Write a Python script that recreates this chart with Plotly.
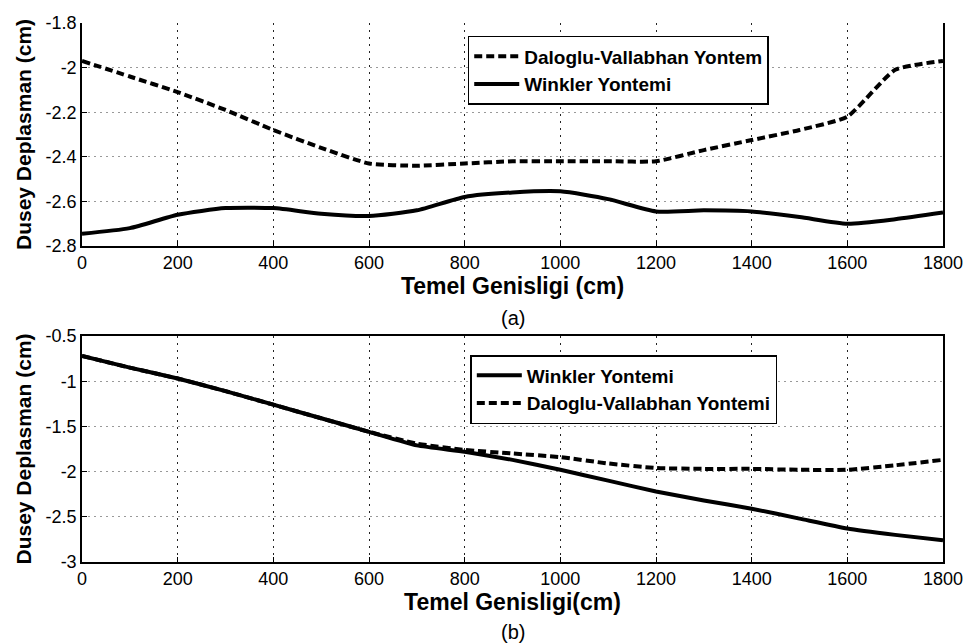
import plotly.graph_objects as go

x_vals = [0, 100, 200, 300, 400, 500, 600, 700, 800, 900, 1000, 1100, 1200, 1300, 1400, 1500, 1600, 1700, 1800]

# Panel (a)
a_daloglu = [-1.97, -2.04, -2.11, -2.19, -2.28, -2.36, -2.43, -2.44, -2.43, -2.42, -2.42, -2.42, -2.42, -2.37, -2.325, -2.28, -2.22, -2.01, -1.97]
a_winkler = [-2.745, -2.72, -2.66, -2.63, -2.63, -2.655, -2.665, -2.64, -2.58, -2.56, -2.555, -2.59, -2.645, -2.64, -2.645, -2.67, -2.70, -2.68, -2.65]

# Panel (b)
b_winkler = [-0.72, -0.85, -0.97, -1.11, -1.26, -1.41, -1.56, -1.71, -1.78, -1.87, -1.98, -2.10, -2.22, -2.32, -2.41, -2.52, -2.63, -2.70, -2.76]
b_daloglu = [-0.72, -0.85, -0.97, -1.11, -1.26, -1.41, -1.56, -1.69, -1.76, -1.80, -1.84, -1.91, -1.96, -1.97, -1.97, -1.98, -1.98, -1.93, -1.87]

x_ticks = [0, 200, 400, 600, 800, 1000, 1200, 1400, 1600, 1800]
a_yticks = [-2.8, -2.6, -2.4, -2.2, -2, -1.8]
a_ytext = ["-2.8", "-2.6", "-2.4", "-2.2", "-2", "-1.8"]
b_yticks = [-3, -2.5, -2, -1.5, -1, -0.5]
b_ytext = ["-3", "-2.5", "-2", "-1.5", "-1", "-0.5"]

FONT = "Liberation Sans, Arial, sans-serif"
DASH = "8px,4px"

fig = go.Figure()
fig.add_trace(go.Scatter(x=x_vals, y=a_daloglu, mode="lines", name="<b>Daloglu-Vallabhan Yontem</b>",
                         line=dict(color="black", width=4, dash=DASH, shape="spline", smoothing=0.5),
                         xaxis="x", yaxis="y", legend="legend"))
fig.add_trace(go.Scatter(x=x_vals, y=a_winkler, mode="lines", name="<b>Winkler Yontemi</b>",
                         line=dict(color="black", width=4, shape="spline", smoothing=0.6),
                         xaxis="x", yaxis="y", legend="legend"))
fig.add_trace(go.Scatter(x=x_vals, y=b_winkler, mode="lines", name="<b>Winkler Yontemi</b>",
                         line=dict(color="black", width=4, shape="spline", smoothing=0.5),
                         xaxis="x2", yaxis="y2", legend="legend2"))
fig.add_trace(go.Scatter(x=x_vals, y=b_daloglu, mode="lines", name="<b>Daloglu-Vallabhan Yontemi</b>",
                         line=dict(color="black", width=4, dash=DASH, shape="spline", smoothing=0.5),
                         xaxis="x2", yaxis="y2", legend="legend2"))

tick_font = dict(family=FONT, size=18, color="black")
xgrid = dict(showgrid=True, gridcolor="#222", griddash="2px,5px", gridwidth=1)
ygrid = dict(showgrid=True, gridcolor="#999", griddash="2px,4px", gridwidth=1)
common_x = dict(range=[0, 1800], tickvals=x_ticks, ticks="inside", ticklen=5, tickcolor="black",
                showline=True, linecolor="black", linewidth=1.5, zeroline=False, automargin=False,
                tickfont=tick_font, **xgrid)
common_y = dict(ticks="inside", ticklen=5, tickcolor="black", showline=True, linecolor="black",
                linewidth=1.5, mirror=True, zeroline=False, automargin=False, tickfont=tick_font, **ygrid)

xtitle_font = dict(family=FONT, size=23, color="black")
ytitle_font = dict(family=FONT, size=21, color="black")
leg_font = dict(family=FONT, size=19, color="black")

fig.update_layout(
    width=966, height=644,
    margin=dict(l=82, r=23, t=23, b=82),
    paper_bgcolor="white", plot_bgcolor="white",
    font=dict(family=FONT, color="black"),
    xaxis=dict(domain=[0, 1], anchor="y", mirror=False,
               title=dict(text="<b>Temel Genisligi (cm)</b>", font=xtitle_font, standoff=4), **common_x),
    yaxis=dict(domain=[0.5863, 1], anchor="x", range=[-2.8, -1.8], tickvals=a_yticks, ticktext=a_ytext,
               title=dict(text="<b>Dusey Deplasman (cm)</b>", font=ytitle_font, standoff=8), **common_y),
    xaxis2=dict(domain=[0, 1], anchor="y2", mirror=True,
                title=dict(text="<b>Temel Genisligi(cm)</b>", font=xtitle_font, standoff=4), **common_x),
    yaxis2=dict(domain=[0, 0.4193], anchor="x2", range=[-3, -0.5], tickvals=b_yticks, ticktext=b_ytext,
                title=dict(text="<b>Dusey Deplasman (cm)</b>", font=ytitle_font, standoff=8), **common_y),
    legend=dict(x=0.448, y=0.976, xanchor="left", yanchor="top", bgcolor="white", itemwidth=45,
                bordercolor="black", borderwidth=1.5, tracegroupgap=0, font=leg_font),
    legend2=dict(x=0.451, y=0.384, xanchor="left", yanchor="top", bgcolor="white", itemwidth=45,
                 bordercolor="black", borderwidth=1.5, tracegroupgap=0, font=leg_font),
    showlegend=True,
)

plot_h = 644 - 23 - 82
for label, py in [("(a)", 318), ("(b)", 632)]:
    fig.add_annotation(text=label, x=0.5, y=(644 - 82 - py) / plot_h, xref="paper", yref="paper",
                       showarrow=False, yanchor="middle",
                       font=dict(family=FONT, size=20, color="black"))

fig.write_html("out.html")
